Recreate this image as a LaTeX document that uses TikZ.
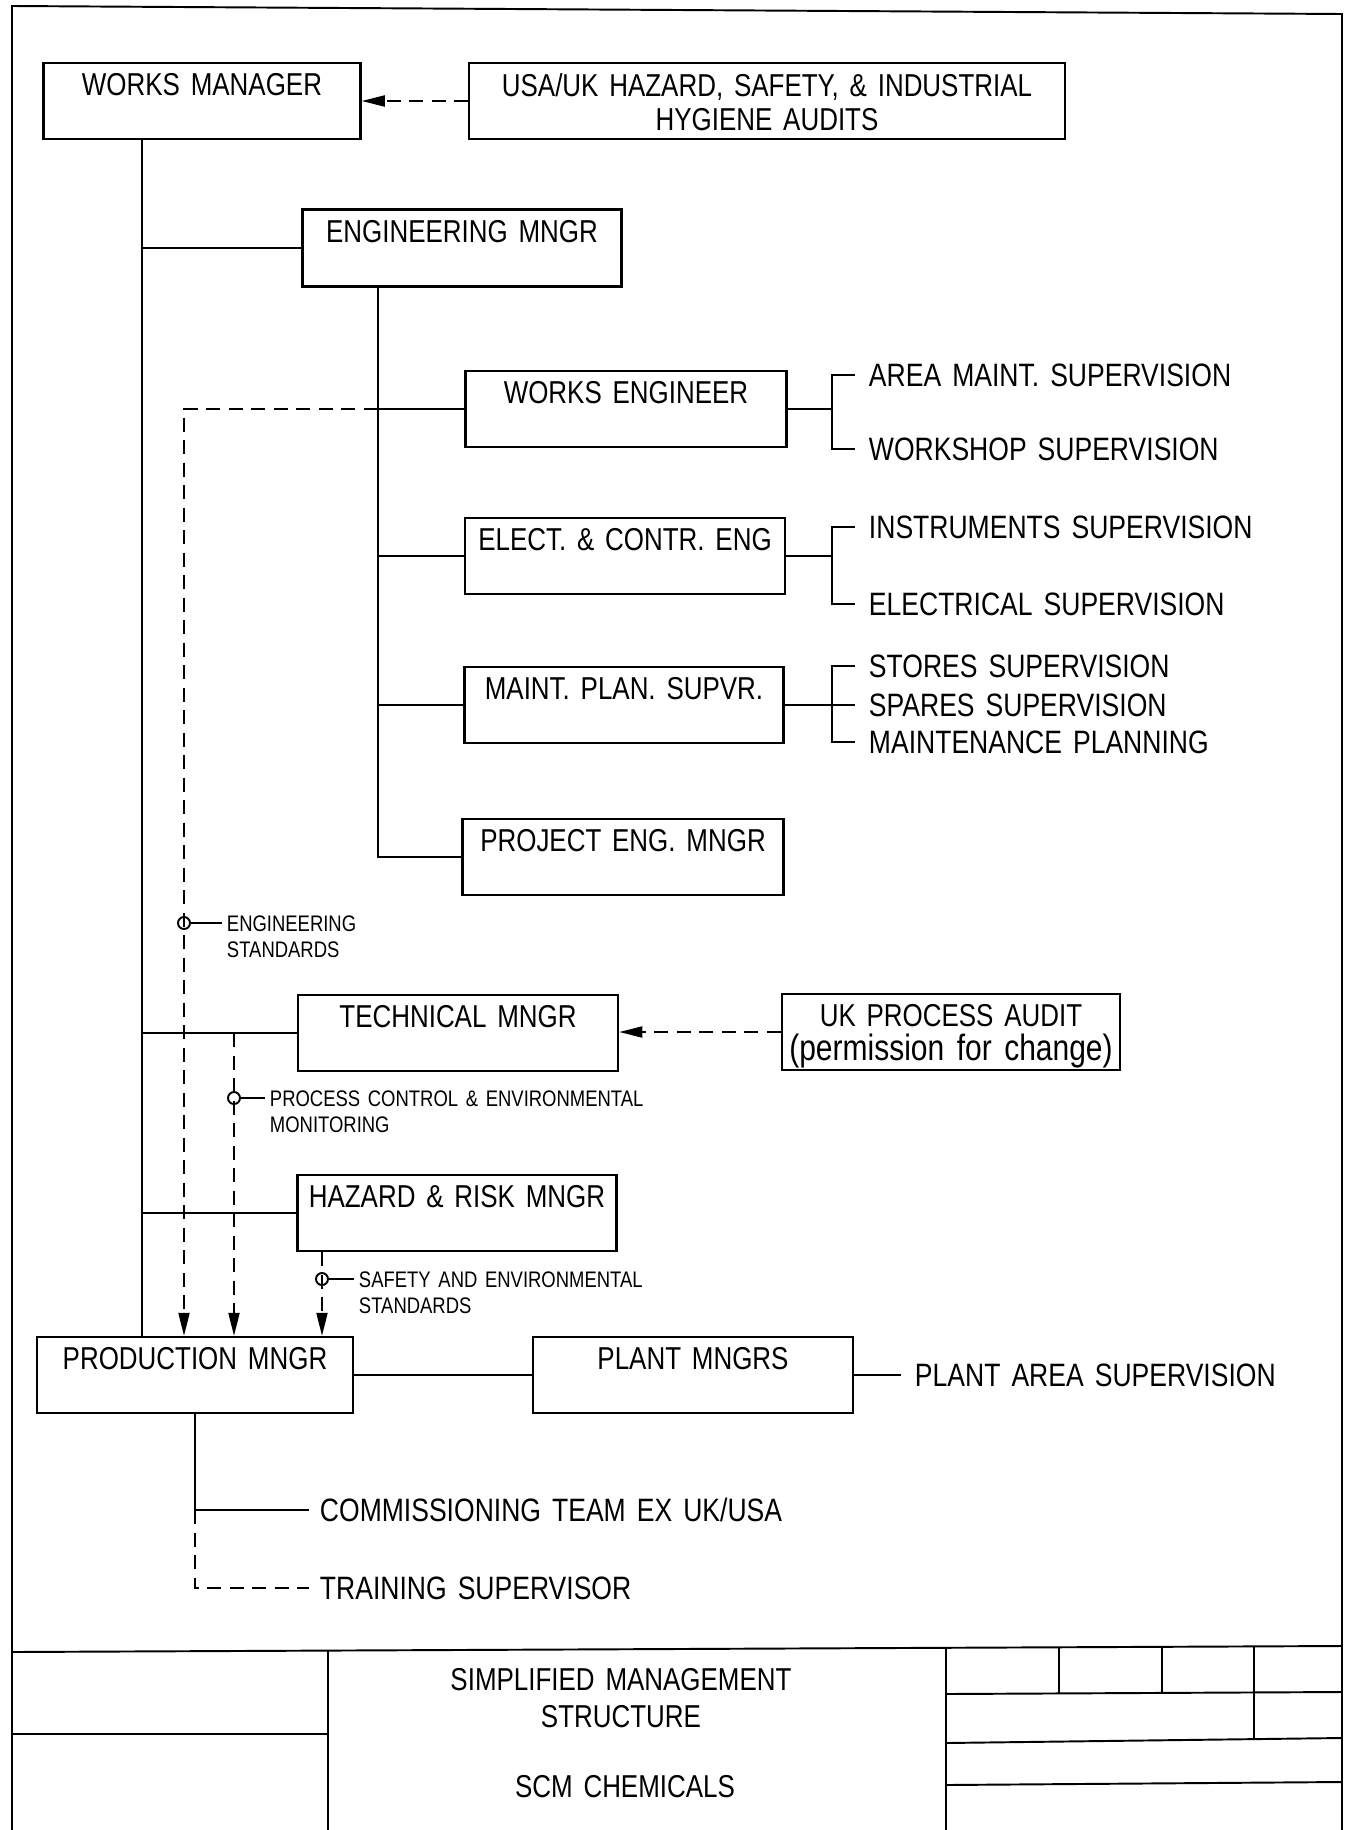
\documentclass[tikz,border=0pt]{standalone}
\usepackage{fontspec}
\setmainfont{Liberation Sans}[FakeStretch=0.82,WordSpace=1.5]
\usetikzlibrary{arrows.meta}
\newcommand{\orgboxfont}{\fontsize{9}{9.6}\selectfont}
\newcommand{\orgsupfont}{\fontsize{9.2}{11}\selectfont}
\newcommand{\orgnotefont}{\fontsize{6.4}{7.4}\selectfont}
\tikzset{
  orgbox/.style={draw, line width=0.65pt, minimum height=0.76cm, inner sep=0pt},
  boxtext/.style={anchor=north, font=\orgboxfont, align=center, inner sep=0pt, yshift=-0.11cm},
  suptext/.style={anchor=west, font=\orgsupfont, inner xsep=0.13cm, inner ysep=0pt},
  notetext/.style={anchor=north west, font=\orgnotefont, align=left, inner xsep=0.04cm, inner ysep=0pt},
  titletext/.style={font=\orgboxfont, inner sep=0pt},
  tapmark/.style={circle, draw, inner sep=0pt, minimum size=0.12cm},
  dashed/.style={dash pattern=on 4pt off 2.4pt},
  >={Triangle[length=2.3mm,width=1.1mm]}
}
\begin{document}
\begin{tikzpicture}[x=0.01cm, y=-0.01cm, line width=0.55pt]
  \useasboundingbox (0,0) rectangle (1351,1830);
  % Sheet frame and title block
  \draw (12,1830) -- (12,6) -- (1342,14) -- (1342,1830);
  \draw (12,1652) -- (1342,1646);
  \draw (328,1651) -- (328,1830);
  \draw (12,1734) -- (328,1734);
  \draw (946,1648) -- (946,1830);
  \draw (946,1694) -- (1342,1692);
  \draw (946,1743) -- (1342,1738);
  \draw (946,1785) -- (1342,1782);
  \draw (1059,1648) -- (1059,1694);
  \draw (1162,1647) -- (1162,1693);
  \draw (1254,1647) -- (1254,1740);
  \node[titletext] (ttl1) at (621,1680) {SIMPLIFIED MANAGEMENT};
  \node[titletext] (ttl2) at (621,1717) {STRUCTURE};
  \node[titletext] (ttl3) at (625,1787) {SCM CHEMICALS};

  % Management boxes
  \node[orgbox, minimum width=3.17cm, label={[boxtext]north:WORKS MANAGER}] (wm) at (202,101) {};
  \node[orgbox, minimum width=5.95cm, label={[boxtext]north:{USA/UK HAZARD, SAFETY, \& INDUSTRIAL\\HYGIENE AUDITS}}] (hsa) at (767,101) {};
  \node[orgbox, minimum width=3.19cm, minimum height=0.77cm, label={[boxtext]north:ENGINEERING MNGR}] (eng) at (462,248) {};
  \node[orgbox, minimum width=3.21cm, label={[boxtext]north:WORKS ENGINEER}] (we) at (626,409) {};
  \node[orgbox, minimum width=3.2cm, label={[boxtext]north:ELECT. \& CONTR. ENG}] (ece) at (625,556) {};
  \node[orgbox, minimum width=3.19cm, label={[boxtext]north:MAINT. PLAN. SUPVR.}] (mps) at (624,705) {};
  \node[orgbox, minimum width=3.21cm, label={[boxtext]north:PROJECT ENG. MNGR}] (pem) at (623,857) {};
  \node[orgbox, minimum width=3.2cm, label={[boxtext]north:TECHNICAL MNGR}] (tech) at (458,1033) {};
  \node[orgbox, minimum width=3.38cm, label={[boxtext]north:{UK PROCESS AUDIT\\{\fontsize{10.4}{9.6}\selectfont(permission for change)}}}] (upa) at (951,1032) {};
  \node[orgbox, minimum width=3.19cm, label={[boxtext]north:HAZARD \& RISK MNGR}] (hrm) at (457,1213) {};
  \node[orgbox, minimum width=3.16cm, label={[boxtext]north:PRODUCTION MNGR}] (prod) at (195,1375) {};
  \node[orgbox, minimum width=3.2cm, label={[boxtext]north:PLANT MNGRS}] (plant) at (693,1375) {};

  % Supervision labels
  \node[suptext] (ams) at (855,375) {AREA MAINT. SUPERVISION};
  \node[suptext] (wss) at (855,449) {WORKSHOP SUPERVISION};
  \node[suptext] (ins) at (855,527) {INSTRUMENTS SUPERVISION};
  \node[suptext] (els) at (855,604) {ELECTRICAL SUPERVISION};
  \node[suptext] (sts) at (855,666) {STORES SUPERVISION};
  \node[suptext] (sps) at (855,705) {SPARES SUPERVISION};
  \node[suptext] (mpl) at (855,742) {MAINTENANCE PLANNING};
  \node[suptext] (pas) at (901,1375) {PLANT AREA SUPERVISION};
  \node[suptext, inner xsep=0.1cm] (comm) at (309,1510) {COMMISSIONING TEAM EX UK/USA};
  \node[suptext, inner xsep=0.1cm] (trn) at (309,1588) {TRAINING SUPERVISOR};

  % Line buses
  \coordinate (trunk) at (142,0);
  \coordinate (engbus) at (378,0);
  \coordinate (brk) at (832,0);
  \coordinate (estd) at (184,0);
  \coordinate (pctl) at (234,0);
  \coordinate (sstd) at (322,0);

  % Solid reporting lines
  \draw (wm.south -| trunk) -- (prod.north -| trunk);
  \draw (trunk |- eng.west) -- (eng.west);
  \draw (trunk |- tech.west) -- (tech.west);
  \draw (trunk |- hrm.west) -- (hrm.west);
  \draw (eng.south -| engbus) -- (engbus |- pem.west) -- (pem.west);
  \draw (engbus |- we.west) -- (we.west);
  \draw (engbus |- ece.west) -- (ece.west);
  \draw (engbus |- mps.west) -- (mps.west);
  \draw (prod.east) -- (plant.west);
  \draw (plant.east) -- (pas.west);
  \draw (prod.south) |- (comm.west);
  \draw[dashed] (prod.south |- comm.west) |- (trn.west);

  % Brackets
  \draw (we.east) -- (brk |- we.east);
  \draw (ams.west) -| (brk |- we.east) |- (wss.west);
  \draw (ece.east) -- (brk |- ece.east);
  \draw (ins.west) -| (brk |- ece.east) |- (els.west);
  \draw (mps.east) -- (sps.west);
  \draw (sts.west) -| (brk |- mps.east) |- (mpl.west);

  % Audits and standards
  \draw[dashed,->] (hsa.west) -- (wm.east);
  \draw[dashed,->] (upa.west) -- (upa.west -| tech.east);
  \draw[dashed,->] (engbus |- we.west) -| (estd |- prod.north);
  \draw[dashed,->] (pctl |- tech.west) -- (pctl |- prod.north);
  \draw[dashed,->] (sstd |- hrm.south) -- (sstd |- prod.north);

  \node[tapmark] (m1) at (184,923) {};
  \node[notetext] (n1) at (222,915) {ENGINEERING\\STANDARDS};
  \draw (m1.east) -- (m1.east -| n1.west);
  \node[tapmark] (m2) at (234,1098) {};
  \node[notetext] (n2) at (265,1090) {PROCESS CONTROL \& ENVIRONMENTAL\\MONITORING};
  \draw (m2.east) -- (m2.east -| n2.west);
  \node[tapmark] (m3) at (322,1279) {};
  \node[notetext] (n3) at (354,1271) {SAFETY AND ENVIRONMENTAL\\STANDARDS};
  \draw (m3.east) -- (m3.east -| n3.west);
\end{tikzpicture}
\end{document}
